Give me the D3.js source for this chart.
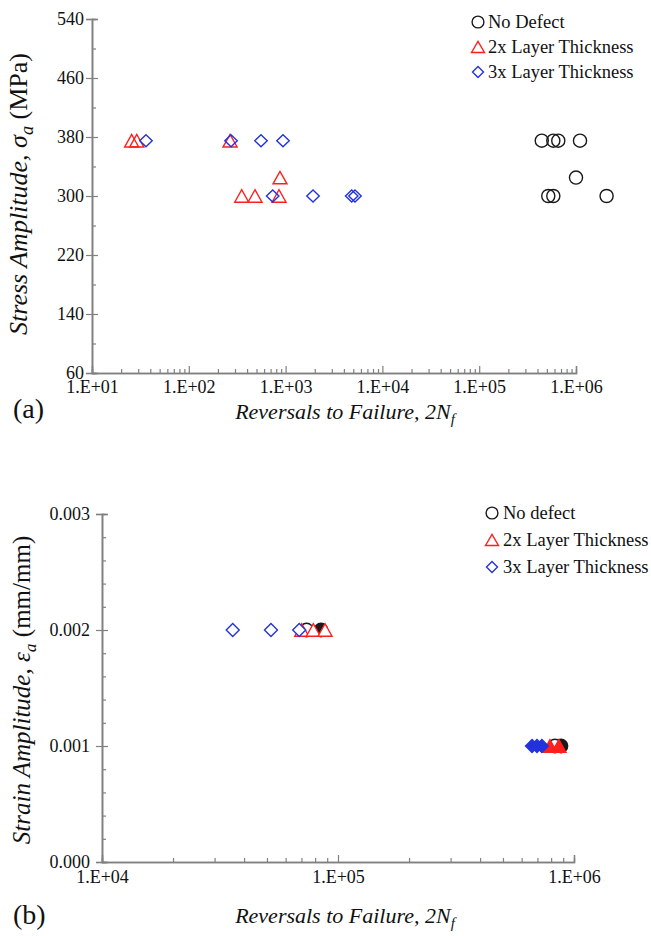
<!DOCTYPE html>
<html><head><meta charset="utf-8">
<script src="https://cdn.jsdelivr.net/npm/d3@7"></script>
<style>
body{margin:0;background:#fff}
svg{display:block}
</style>
</head><body>
<svg id="c" width="651" height="936"></svg>
<script>
// ---------------- DATA ----------------
// (a) Stress-life
const seriesNames = ["No Defect", "2x Layer Thickness", "3x Layer Thickness"];
const seriesNamesB = ["No defect", "2x Layer Thickness", "3x Layer Thickness"];

const aNoDefectN      = [4.43e5, 5.83e5, 6.56e5, 1.10e6, 1.00e6, 5.17e5, 5.83e5, 2.07e6];
const aNoDefectStress = [375, 375, 375, 375, 325, 300, 300, 300];
const a2xN            = [25.7, 29.0, 267, 352, 483, 855, 875];
const a2xStress       = [375, 375, 375, 300, 300, 300, 325];
const a3xN            = [36.1, 273, 557, 940, 736, 1920, 4820, 5210];
const a3xStress       = [375, 375, 375, 375, 300, 300, 300, 300];

const aXTicks = [1e1, 1e2, 1e3, 1e4, 1e5, 1e6];
const aYTicks = [60, 140, 220, 300, 380, 460, 540];

// (b) Strain-life (open = hollow markers, solid = filled markers)
const bNoDefectOpenN       = [7.36e4, 8.30e5];
const bNoDefectOpenStrain  = [0.002, 0.001];
const bNoDefectSolidN      = [8.47e4, 8.81e5];
const bNoDefectSolidStrain = [0.002, 0.001];
const b2xOpenN             = [7.02e4, 7.86e4, 8.81e4];
const b2xOpenStrain        = [0.002, 0.002, 0.002];
const b2xSolidN            = [7.91e5, 8.63e5];
const b2xSolidStrain       = [0.001, 0.001];
const b3xOpenN             = [3.58e4, 5.20e4, 6.85e4];
const b3xOpenStrain        = [0.002, 0.002, 0.002];
const b3xSolidN            = [6.64e5, 6.97e5, 7.31e5];
const b3xSolidStrain       = [0.001, 0.001, 0.001];

const bXTicks = [1e4, 1e5, 1e6];
const bYTicks = [0.000, 0.001, 0.002, 0.003];

// ---------------- STYLE ----------------
const FONT = "Liberation Serif";
const colors = ["#1a1a1a", "#ff1f1f", "#2233dd"];
const axisColor = "#808080";
const svg = d3.select("#c");

function markerPath(type, s) {
  if (type === 0) return d3.symbol(d3.symbolCircle, s.circle)();
  if (type === 1) {
    const w = s.tri / 2, h = s.triH;
    return `M${-w},${h/2}L0,${-h/2}L${w},${h/2}Z`;
  }
  const a = s.dia / 2, b = s.diaH / 2;
  return `M0,${-b}L${a},0L0,${b}L${-a},0Z`;
}

function minorTicks(lo, hi) {
  const out = [];
  for (let e = Math.log10(lo); e < Math.log10(hi); e++)
    for (let m = 2; m <= 9; m++) out.push(m * Math.pow(10, e));
  return out;
}

function drawPanel(cfg) {
  const g = svg.append("g");
  const x = d3.scaleLog().domain(cfg.xDomain).range(cfg.xRange);
  const y = d3.scaleLinear().domain(cfg.yDomain).range(cfg.yRange);
  const x0 = cfg.xRange[0], y0 = cfg.yRange[0];

  g.append("g").attr("transform", `translate(0,${y0})`)
    .call(d3.axisBottom(x).tickValues(cfg.xTicks).tickSize(-7).tickPadding(cfg.xPad)
      .tickFormat(d => "1.E+" + String(Math.round(Math.log10(d))).padStart(2, "0")));
  g.append("g").attr("transform", `translate(0,${y0})`)
    .call(d3.axisBottom(x).tickValues(minorTicks(cfg.xDomain[0], cfg.xDomain[1])).tickSize(-4).tickFormat(""));

  g.append("g").attr("transform", `translate(${x0},0)`)
    .call(d3.axisLeft(y).tickValues(cfg.yTicks).tickSize(6).tickPadding(cfg.yPad).tickFormat(cfg.yFmt));
  g.append("g").attr("transform", `translate(${x0},0)`)
    .call(d3.axisRight(y).tickValues(cfg.yTicks).tickSize(6).tickFormat(""));
  g.append("g").attr("transform", `translate(${x0},0)`)
    .call(d3.axisRight(y).tickValues(cfg.yMinor).tickSize(4).tickFormat(""));

  g.selectAll("g").attr("font-family", FONT);
  g.selectAll(".domain").attr("stroke", axisColor).attr("stroke-width", 1.4);
  g.selectAll(".tick line").attr("stroke", axisColor).attr("stroke-width", 1.2);
  g.selectAll(".tick text").attr("font-size", 18).attr("fill", "#111").attr("font-family", FONT);

  cfg.series.forEach(sr => {
    g.append("g").selectAll("path").data(sr.N.map((n, i) => [n, sr.v[i]])).join("path")
      .attr("d", markerPath(sr.type, cfg.msize))
      .attr("transform", d => `translate(${x(d[0])},${y(d[1])})`)
      .attr("fill", sr.solid ? colors[sr.type] : cfg.fill)
      .attr("stroke", colors[sr.type]).attr("stroke-width", 1.4);
  });

  cfg.legendNames.forEach((nm, i) => {
    const ly = cfg.legend.y + i * cfg.legend.dy;
    g.append("path").attr("d", markerPath(i, cfg.lsize))
      .attr("transform", `translate(${cfg.legend.x},${ly})`)
      .attr("fill", "none").attr("stroke", colors[i]).attr("stroke-width", 1.4);
    g.append("text").attr("x", cfg.legend.x + cfg.legend.tx).attr("y", ly)
      .attr("dy", "0.35em").attr("font-size", 18.5).attr("font-family", FONT).attr("fill", "#111").text(nm);
  });

  const xt = g.append("text").attr("x", cfg.xTitle[0]).attr("y", cfg.xTitle[1])
    .attr("text-anchor", "middle").attr("font-size", 22).attr("font-style", "italic")
    .attr("font-family", FONT).attr("fill", "#111");
  xt.append("tspan").text("Reversals to Failure, 2N");
  xt.append("tspan").attr("dy", 5).attr("font-size", 15).text("f");

  const yt = g.append("text")
    .attr("transform", `translate(${cfg.yTitle[0]},${cfg.yTitle[1]}) rotate(-90)`)
    .attr("text-anchor", "middle").attr("font-size", cfg.yTitleSize).attr("font-family", FONT).attr("fill", "#111");
  yt.append("tspan").attr("font-style", "italic").text(cfg.yTitleText[0]);
  yt.append("tspan").attr("font-style", "italic").text(cfg.yTitleText[1]);
  yt.append("tspan").attr("font-style", "italic").attr("dy", 6).attr("font-size", cfg.yTitleSize * 0.7).text("a");
  yt.append("tspan").attr("dy", -6).text(" (" + cfg.yUnit + ")");

  g.append("text").attr("x", cfg.label[0]).attr("y", cfg.label[1])
    .attr("font-size", 28).attr("font-family", FONT).attr("fill", "#111").text(cfg.labelText);
}

drawPanel({
  xDomain: [1e1, 1e6], xRange: [92, 576],
  yDomain: [60, 540], yRange: [373, 19],
  xTicks: aXTicks, yTicks: aYTicks, yMinor: [100, 180, 260, 340, 420, 500],
  yFmt: d3.format("d"), yPad: 2, xPad: 7,
  fill: "none",
  msize: {circle: 135, tri: 14, triH: 12.5, dia: 12.5, diaH: 12},
  lsize: {circle: 110, tri: 13, triH: 11, dia: 11, diaH: 11},
  series: [
    {type: 0, N: aNoDefectN, v: aNoDefectStress},
    {type: 1, N: a2xN, v: a2xStress},
    {type: 2, N: a3xN, v: a3xStress}
  ],
  legendNames: seriesNames,
  legend: {x: 478, y: 22, dy: 25, tx: 10},
  xTitle: [345, 419],
  yTitle: [27, 194], yTitleSize: 26, yTitleText: ["Stress Amplitude, ", "σ"], yUnit: "MPa",
  label: [13, 418], labelText: "(a)"
});

drawPanel({
  xDomain: [1e4, 1e6], xRange: [102, 574],
  yDomain: [0, 0.003], yRange: [862, 514],
  xTicks: bXTicks, yTicks: bYTicks,
  yMinor: [0.0002,0.0004,0.0006,0.0008,0.0012,0.0014,0.0016,0.0018,0.0022,0.0024,0.0026,0.0028],
  yFmt: d3.format(".3f"), yPad: 6, xPad: 8,
  fill: "#fff",
  msize: {circle: 140, tri: 14, triH: 12.5, dia: 13, diaH: 13},
  lsize: {circle: 110, tri: 13, triH: 11, dia: 11, diaH: 11},
  series: [
    {type: 0, N: bNoDefectSolidN, v: bNoDefectSolidStrain, solid: true},
    {type: 0, N: bNoDefectOpenN, v: bNoDefectOpenStrain},
    {type: 1, N: b2xOpenN, v: b2xOpenStrain},
    {type: 1, N: b2xSolidN, v: b2xSolidStrain, solid: true},
    {type: 2, N: b3xOpenN, v: b3xOpenStrain},
    {type: 2, N: b3xSolidN, v: b3xSolidStrain, solid: true}
  ],
  legendNames: seriesNamesB,
  legend: {x: 492, y: 513, dy: 27, tx: 11},
  xTitle: [345, 923],
  yTitle: [30, 690], yTitleSize: 25, yTitleText: ["Strain Amplitude, ", "ε"], yUnit: "mm/mm",
  label: [13, 924], labelText: "(b)"
});
</script>
</body></html>
